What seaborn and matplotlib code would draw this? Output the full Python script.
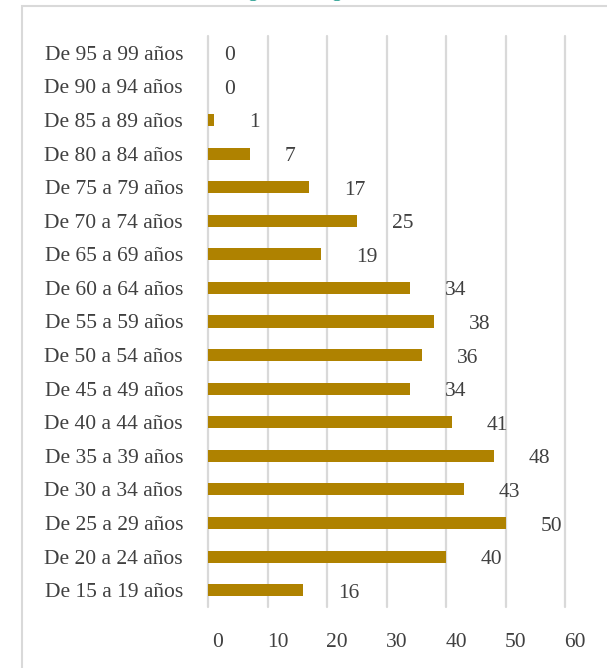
import matplotlib
matplotlib.use('Agg')
import matplotlib.pyplot as plt
import matplotlib.transforms as mtransforms
from matplotlib.patches import Rectangle
import seaborn as sns
import pandas as pd

# ----------------------------------------------------------------------
# Data (top to bottom as in the chart)
# ----------------------------------------------------------------------
age_groups = [
    'De 95 a 99 años', 'De 90 a 94 años', 'De 85 a 89 años', 'De 80 a 84 años',
    'De 75 a 79 años', 'De 70 a 74 años', 'De 65 a 69 años', 'De 60 a 64 años',
    'De 55 a 59 años', 'De 50 a 54 años', 'De 45 a 49 años', 'De 40 a 44 años',
    'De 35 a 39 años', 'De 30 a 34 años', 'De 25 a 29 años', 'De 20 a 24 años',
    'De 15 a 19 años',
]
counts = [0, 0, 1, 7, 17, 25, 19, 34, 38, 36, 34, 41, 48, 43, 50, 40, 16]
x_ticks = [0, 10, 20, 30, 40, 50, 60]

df = pd.DataFrame({'grupo': age_groups, 'n': counts})

BAR = '#AF8200'
TXT = '#404040'
GRID = '#D9D9D9'
FS = 15.5

sns.set_theme(style='white')
plt.rcParams['font.family'] = ['Liberation Serif', 'DejaVu Serif']

W, H = 607, 668
fig = plt.figure(figsize=(W / 100, H / 100), dpi=100)
ax = fig.add_axes([208 / W, 1 - 607 / H, (565 - 208) / W, (607 - 36) / H])

sns.barplot(data=df, x='n', y='grupo', order=age_groups, color=BAR,
            width=0.36, saturation=1, linewidth=0, ax=ax)

ax.set_xlim(0, 60)
ax.set_ylim(len(age_groups) - 0.5, -0.5)
ax.set_xticks(x_ticks)
ax.set_xlabel('')
ax.set_ylabel('')
for s in ax.spines.values():
    s.set_visible(False)
ax.grid(False)
for t in x_ticks:
    ax.axvline(t, color=GRID, lw=1.6, zorder=0, clip_on=False)

ax.tick_params(axis='y', length=0, pad=18, labelsize=FS, labelcolor=TXT)
ax.tick_params(axis='x', length=0, pad=19, labelsize=FS, labelcolor=TXT)
# tick labels sit slightly right of their gridlines in the original
shift = mtransforms.ScaledTranslation(10 / 100, 0, fig.dpi_scale_trans)
for lab in ax.get_xticklabels():
    lab.set_transform(lab.get_transform() + shift)

# data labels to the right of each bar
for i, v in enumerate(counts):
    dx = 35 if v > 0 else 16
    ax.annotate(str(v), xy=(v, i), xytext=(dx, -3),
                textcoords='offset pixels', ha='left', va='center',
                fontsize=FS, color=TXT)

# outer frame (left and top edges visible) and clipped title
fig.patches.append(Rectangle((22 / W, -0.1), 1.2, 1.1 - 6 / H, transform=fig.transFigure,
                             fill=False, edgecolor=GRID, lw=1.5))
fig.text(272 / W, 1.0 + 4 / H, 'Distribución según el rango de edad', color='#1E9A8C',
         fontsize=15, ha='center', va='baseline')

fig.savefig('out.png', dpi=100)
